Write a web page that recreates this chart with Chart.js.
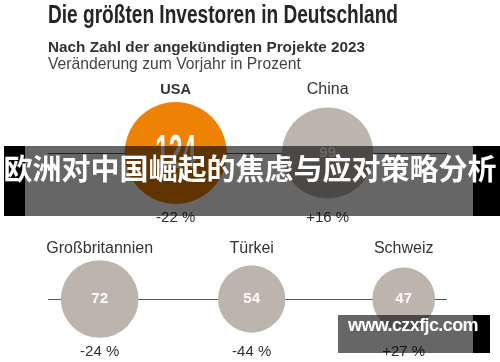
<!DOCTYPE html>
<html>
<head>
<meta charset="utf-8">
<script src="https://cdn.jsdelivr.net/npm/chart.js@4"></script>
<style>
  body { margin: 0; background: #fff; }
  #wrap { position: relative; width: 500px; height: 362px; overflow: hidden; }
  canvas { display: block; }
  .band { position: absolute; left: 4px; top: 146px; width: 496px; height: 70px; }
  .band .mid { position: absolute; left: 21px; top: 0; width: 448px; height: 70px; background: rgba(0,0,0,0.6); }
  .band .l { position: absolute; left: 0; top: 0; width: 21px; height: 70px; background: #000; }
  .band .r { position: absolute; left: 469px; top: 0; width: 27px; height: 70px; background: #000; }
  .band .txt { position: absolute; left: 0; width: 500px; margin-left: -4px; top: 0; height: 70px; line-height: 70px; text-align: center;
    color: #fff; font: bold 29px "Noto Sans CJK SC", sans-serif; white-space: nowrap; }
  .mark { position: absolute; left: 338px; top: 315px; width: 152px; height: 38px; }
  .mark .mid { position: absolute; left: 0; top: 0; width: 135px; height: 38px; background: rgba(0,0,0,0.6); }
  .mark .r { position: absolute; left: 135px; top: 0; width: 17px; height: 38px; background: #000; }
  .mark .txt { position: absolute; left: 10px; top: 0; line-height: 38px; color: #fff; font: bold 18px "Liberation Sans", Arial, sans-serif;
    letter-spacing: -0.6px; white-space: nowrap; }
</style>
</head>
<body>
<div id="wrap">
  <canvas id="myChart" width="500" height="362"></canvas>
  <div class="band"><div class="l"></div><div class="mid"></div><div class="r"></div><div class="txt">欧洲对中国崛起的焦虑与应对策略分析</div></div>
  <div class="mark"><div class="mid"></div><div class="r"></div><div class="txt">www.czxfjc.com</div></div>
</div>
<script>
const countries = ["USA", "China", "Großbritannien", "Türkei", "Schweiz"];
const projects = [124, 99, 72, 54, 47];
const changes = [-22, 16, -24, -44, 27];

const title = "Die größten Investoren in Deutschland";
const subtitle = "Nach Zahl der angekündigten Projekte 2023";
const subtitle2 = "Veränderung zum Vorjahr in Prozent";

// erste zwei oben, Rest unten
const points = projects.map((v, i) => ({
  x: i < 2 ? i + 0.5 : i - 2,
  y: i < 2 ? 1 : 0,
  r: 4.58 * Math.sqrt(v),
}));

function fmt(n) {
  return (n > 0 ? "+" : "") + n + " %";
}

// schmaler Text (keine Condensed-Schrift installiert)
function narrowText(ctx, text, x, y, width) {
  const w = ctx.measureText(text).width;
  ctx.save();
  ctx.translate(x, y);
  ctx.scale(width / w, 1);
  ctx.fillText(text, 0, 0);
  ctx.restore();
}

const bubbleText = {
  id: "bubbleText",
  beforeDatasetsDraw(chart) {
    const ctx = chart.ctx;
    const area = chart.chartArea;
    const y = chart.scales.y;
    ctx.save();
    ctx.strokeStyle = "#555";
    ctx.lineWidth = 1;
    [1, 0].forEach((row) => {
      const py = Math.round(y.getPixelForValue(row)) + 0.5;
      ctx.beginPath();
      ctx.moveTo(area.left, py);
      ctx.lineTo(area.right, py);
      ctx.stroke();
    });
    ctx.restore();
  },
  afterDatasetsDraw(chart) {
    const ctx = chart.ctx;
    const meta = chart.getDatasetMeta(0);
    const maxR = {};
    points.forEach((p) => { maxR[p.y] = Math.max(maxR[p.y] || 0, p.r); });
    ctx.save();
    ctx.textBaseline = "middle";
    ctx.textAlign = "center";
    meta.data.forEach((el, i) => {
      const m = maxR[points[i].y];
      // Zahl im Kreis
      if (i === 0) {
        ctx.fillStyle = "#fff8ee";
        ctx.font = "bold 48px 'Liberation Sans', Arial, sans-serif";
        narrowText(ctx, String(projects[i]), el.x, el.y + 2, 41);
      } else {
        ctx.fillStyle = "#fff";
        ctx.font = "bold 15px 'Liberation Sans', Arial, sans-serif";
        ctx.fillText(projects[i], el.x, el.y);
      }
      // Land
      ctx.fillStyle = "#333";
      ctx.font = i === 0 ? "bold 14.5px 'Liberation Sans', Arial, sans-serif" : "16px 'Liberation Sans', Arial, sans-serif";
      ctx.fillText(countries[i], el.x, el.y - m - 12);
      // Veränderung
      ctx.font = "15px 'Liberation Sans', Arial, sans-serif";
      ctx.fillText(fmt(changes[i]), el.x, el.y + m + 14);
    });
    ctx.restore();
  },
  afterDraw(chart) {
    const ctx = chart.ctx;
    ctx.save();
    ctx.textAlign = "left";
    ctx.textBaseline = "alphabetic";
    ctx.fillStyle = "#252525";
    ctx.font = "bold 25px 'Liberation Sans', Arial, sans-serif";
    narrowText(ctx, title, 48, 23, 350);
    ctx.fillStyle = "#333";
    ctx.font = "bold 15.3px 'Liberation Sans', Arial, sans-serif";
    ctx.fillText(subtitle, 48, 52);
    ctx.fillStyle = "#444";
    ctx.font = "15.7px 'Liberation Sans', Arial, sans-serif";
    ctx.fillText(subtitle2, 48, 69);
    ctx.restore();
  },
};

const ctx = document.getElementById("myChart").getContext("2d");
const myChart = new Chart(ctx, {
  type: "bubble",
  data: {
    datasets: [
      {
        label: "Projekte",
        data: points,
        backgroundColor: projects.map((v, i) => (i === 0 ? "#ee8204" : "#bcb5ad")),
        borderWidth: 0,
      },
    ],
  },
  options: {
    responsive: false,
    animation: false,
    events: [],
    clip: false,
    layout: { autoPadding: false, padding: { left: 48, right: 53, top: 94.6, bottom: 4.6 } },
    scales: {
      x: { type: "linear", min: -0.34, max: 2.285, display: false },
      y: { type: "linear", min: -0.4, max: 1.4, display: false },
    },
    plugins: {
      legend: { display: false },
      tooltip: { enabled: false },
    },
  },
  plugins: [bubbleText],
});
</script>
</body>
</html>
